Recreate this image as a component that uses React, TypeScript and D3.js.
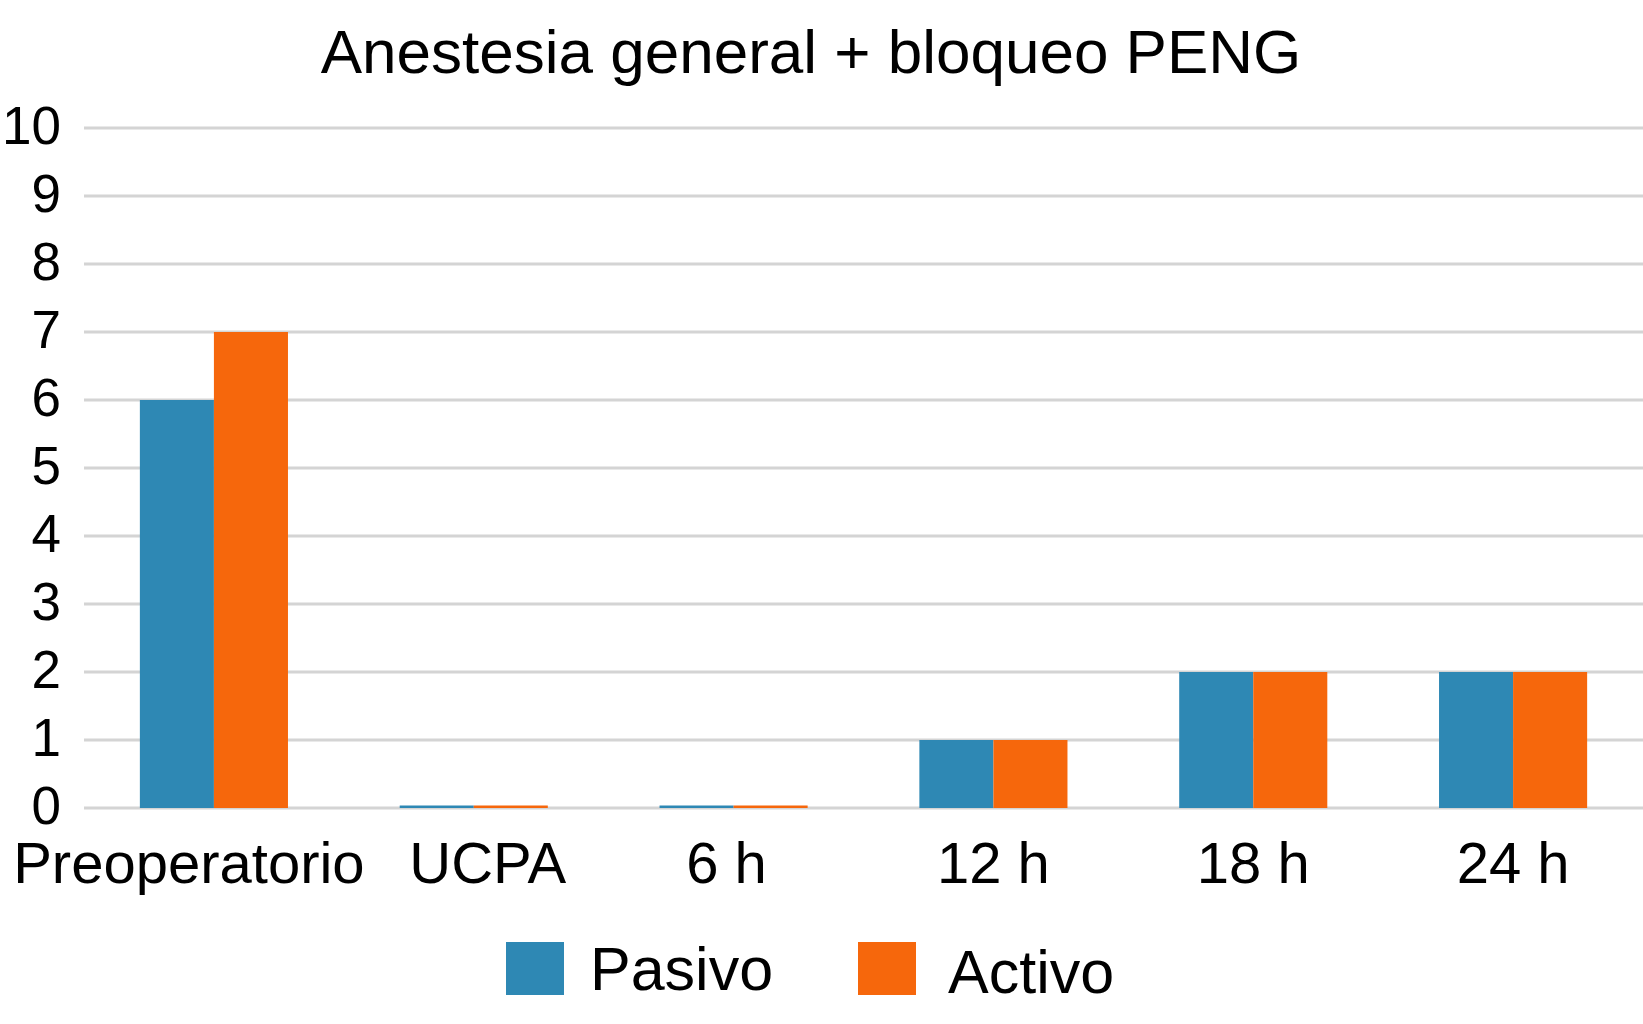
import React, { useEffect, useRef } from "react";
import * as d3 from "d3";

// Chart data
const categories = ["Preoperatorio", "UCPA", "6 h", "12 h", "18 h", "24 h"];
const seriesNames = ["Pasivo", "Activo"];
const pasivoValues = [6, 0, 0, 1, 2, 2];
const activoValues = [7, 0, 0, 1, 2, 2];
const yTicks = [0, 1, 2, 3, 4, 5, 6, 7, 8, 9, 10];
const title = "Anestesia general + bloqueo PENG";

const colors = ["#2e88b4", "#f6670c"];

const WIDTH = 1643;
const HEIGHT = 1024;
const FONT = "'Liberation Sans', Arial, sans-serif";

const App: React.FC = () => {
  const svgRef = useRef<SVGSVGElement | null>(null);

  useEffect(() => {
    const svg = d3.select(svgRef.current);
    svg.selectAll("*").remove(); // Clear previous content

    const margin = { left: 84, right: 0, top: 128, bottom: 216 };
    const plotBottom = HEIGHT - margin.bottom;

    const x = d3
      .scaleBand<string>()
      .domain(categories)
      .range([margin.left, WIDTH - margin.right])
      .paddingInner(0.43)
      .paddingOuter(0.215);

    const xSeries = d3
      .scaleBand<string>()
      .domain(seriesNames)
      .range([0, x.bandwidth()]);

    const y = d3.scaleLinear().domain([0, 10]).range([plotBottom, margin.top]);

    // Background
    svg
      .append("rect")
      .attr("width", WIDTH)
      .attr("height", HEIGHT)
      .attr("fill", "#ffffff");

    // Title
    svg
      .append("text")
      .attr("x", 811)
      .attr("y", 73)
      .attr("text-anchor", "middle")
      .style("font-family", FONT)
      .style("font-size", "62px")
      .attr("fill", "#000")
      .text(title);

    // Gridlines
    svg
      .append("g")
      .selectAll("line")
      .data(yTicks)
      .join("line")
      .attr("x1", margin.left)
      .attr("x2", WIDTH - margin.right)
      .attr("y1", (d) => y(d))
      .attr("y2", (d) => y(d))
      .attr("stroke", "#d4d4d4")
      .attr("stroke-width", 3);

    // Y tick labels
    svg
      .append("g")
      .selectAll("text")
      .data(yTicks)
      .join("text")
      .attr("x", 61)
      .attr("y", (d) => y(d) + 16)
      .attr("text-anchor", "end")
      .style("font-family", FONT)
      .style("font-size", "53px")
      .attr("fill", "#000")
      .text((d) => d);

    // Bars
    const seriesValues = [pasivoValues, activoValues];
    const barGroups = svg
      .append("g")
      .selectAll("g")
      .data(seriesNames)
      .join("g")
      .attr("fill", (_, i) => colors[i]);

    barGroups
      .selectAll("rect")
      .data((_, i) =>
        categories.map((c, j) => ({ cat: c, series: seriesNames[i], value: seriesValues[i][j] }))
      )
      .join("rect")
      .attr("x", (d) => (x(d.cat) ?? 0) + (xSeries(d.series) ?? 0))
      .attr("width", xSeries.bandwidth())
      .attr("y", (d) => Math.min(y(d.value), plotBottom - 2.5))
      .attr("height", (d) => Math.max(plotBottom - y(d.value), 2.5));

    // X labels (first few nudged apart so the long one doesn't crowd its neighbour)
    const labelNudge = [-25, 14, -7, 0, 0, 0];
    svg
      .append("g")
      .selectAll("text")
      .data(categories)
      .join("text")
      .attr("x", (d, i) => (x(d) ?? 0) + x.bandwidth() / 2 + labelNudge[i])
      .attr("y", 883)
      .attr("text-anchor", "middle")
      .style("font-family", FONT)
      .style("font-size", "58px")
      .attr("fill", "#000")
      .text((d) => d);

    // Legend
    const legendItems = [
      { name: seriesNames[0], sx: 506, tx: 590, ty: 990 },
      { name: seriesNames[1], sx: 858, tx: 948, ty: 993 },
    ];
    const legend = svg.append("g");
    legendItems.forEach((item, i) => {
      legend
        .append("rect")
        .attr("x", item.sx)
        .attr("y", 942)
        .attr("width", 58)
        .attr("height", 53)
        .attr("fill", colors[i]);
      legend
        .append("text")
        .attr("x", item.tx)
        .attr("y", item.ty)
        .style("font-family", FONT)
        .style("font-size", "61px")
        .attr("fill", "#000")
        .text(item.name);
    });
  }, []);

  return (
    <svg
      ref={svgRef}
      width={WIDTH}
      height={HEIGHT}
      style={{ position: "absolute", left: 0, top: 0 }}
    ></svg>
  );
};

export default App;
